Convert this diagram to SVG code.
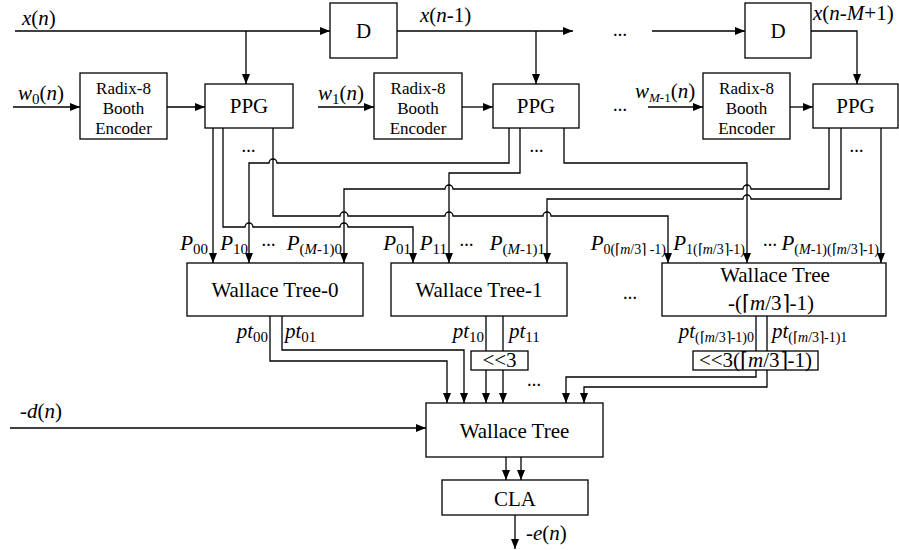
<svg xmlns="http://www.w3.org/2000/svg" width="899" height="550" viewBox="0 0 899 550">
<defs>
<marker id="ah" markerUnits="userSpaceOnUse" markerWidth="10" markerHeight="8" refX="10" refY="4" orient="auto">
<path d="M0,0 L10,4 L0,8 z" fill="#000"/>
</marker>
<style>
.box{fill:#fff;stroke:#000;stroke-width:1.3}
.w{fill:none;stroke:#000;stroke-width:1.3}
.a{fill:none;stroke:#000;stroke-width:1.3;marker-end:url(#ah)}
.t{font-size:21px;text-anchor:middle}
.enc{font-size:17px;text-anchor:middle}
.lab{font-size:21px}
.i{font-style:italic}
.s{font-size:15px}
.s2{font-size:14px}
.s3{font-size:13px}
.dots{font-size:14px;font-weight:bold;text-anchor:middle}
</style>
</defs>
<rect width="899" height="550" fill="#fff"/>

<g id="connectors">
<path class="a" d="M15,31 H330"/>
<path class="a" d="M246,31 V84"/>
<path class="a" d="M397,31 H573"/>
<path class="a" d="M536,31 V84"/>
<path class="a" d="M652,31 H745"/>
<path class="a" d="M811,31 H857 V84"/>
<path class="a" d="M13,107 H80"/>
<path class="a" d="M167,107 H205"/>
<path class="a" d="M318,107 H374"/>
<path class="a" d="M462,107 H493"/>
<path class="a" d="M648,107 H703"/>
<path class="a" d="M790,107 H813"/>
<path class="a" d="M213,128 V263"/>
<path class="a" d="M223,128 V227 H245 A4,4 0 0 1 253,227 H340 A4,4 0 0 1 348,227 H413 V263"/>
<path class="a" d="M273,128 V216 H340 A4,4 0 0 1 348,216 H445 A4,4 0 0 1 453,216 H543 A4,4 0 0 1 551,216 H668 V263"/>
<path class="a" d="M509,128 V163 H277 A4,4 0 0 0 269,163 H249 V263"/>
<path class="a" d="M520,128 V173 H449 V263"/>
<path class="a" d="M564,128 V163 H747 V263"/>
<path class="a" d="M829,128 V189 H751 A4,4 0 0 0 743,189 H453 A4,4 0 0 0 445,189 H344 V263"/>
<path class="a" d="M841,128 V199 H751 A4,4 0 0 0 743,199 H547 V263"/>
<path class="a" d="M881,128 V263"/>
<path class="a" d="M270,316 V361 H447 V403"/>
<path class="a" d="M282,316 V350 H464 V403"/>
<path class="w" d="M486,316 V351 M503,316 V351"/>
<path class="a" d="M486,370 V403"/>
<path class="a" d="M503,370 V403"/>
<path class="w" d="M756,316 V351 M767,316 V351"/>
<path class="a" d="M756,370 V377 H566 V403"/>
<path class="a" d="M767,370 V387 H584 V403"/>
<path class="a" d="M10,428 H426"/>
<path class="a" d="M506,457 V480"/>
<path class="a" d="M521,457 V480"/>
<path class="a" d="M515,515 V549"/>
</g>

<g id="D1"><rect class="box" x="330" y="3" width="67" height="55"/><text font-family="Liberation Serif" class="t" x="363.5" y="38">D</text></g>
<g id="D2"><rect class="box" x="745" y="3" width="66" height="55"/><text font-family="Liberation Serif" class="t" x="778" y="38">D</text></g>

<g id="enc0"><rect class="box" x="80" y="73" width="87" height="66"/>
<text font-family="Liberation Serif" class="enc" x="123.5" y="94">Radix-8</text><text font-family="Liberation Serif" class="enc" x="123.5" y="114">Booth</text><text font-family="Liberation Serif" class="enc" x="123.5" y="134">Encoder</text></g>
<g id="enc1"><rect class="box" x="374" y="73" width="88" height="66"/>
<text font-family="Liberation Serif" class="enc" x="418" y="94">Radix-8</text><text font-family="Liberation Serif" class="enc" x="418" y="114">Booth</text><text font-family="Liberation Serif" class="enc" x="418" y="134">Encoder</text></g>
<g id="enc2"><rect class="box" x="703" y="73" width="87" height="66"/>
<text font-family="Liberation Serif" class="enc" x="746.5" y="94">Radix-8</text><text font-family="Liberation Serif" class="enc" x="746.5" y="114">Booth</text><text font-family="Liberation Serif" class="enc" x="746.5" y="134">Encoder</text></g>

<g id="ppg0"><rect class="box" x="205" y="84" width="88" height="44"/><text font-family="Liberation Serif" class="t" x="249" y="113">PPG</text></g>
<g id="ppg1"><rect class="box" x="493" y="84" width="86" height="44"/><text font-family="Liberation Serif" class="t" x="536" y="113">PPG</text></g>
<g id="ppg2"><rect class="box" x="813" y="84" width="85" height="44"/><text font-family="Liberation Serif" class="t" x="855.5" y="113">PPG</text></g>

<g id="wt0"><rect class="box" x="187" y="263" width="176" height="53"/><text font-family="Liberation Serif" class="t" x="275" y="297">Wallace Tree-0</text></g>
<g id="wt1"><rect class="box" x="391" y="263" width="176" height="53"/><text font-family="Liberation Serif" class="t" x="479" y="297">Wallace Tree-1</text></g>
<g id="wt2"><rect class="box" x="662" y="263" width="224" height="53"/><text font-family="Liberation Serif" class="t" x="775" y="282">Wallace Tree</text>
<text font-family="Liberation Serif" class="t" x="771" y="310">-(⌈<tspan class="i">m</tspan>/3⌉-1)</text></g>

<g id="sh1"><rect class="box" x="471" y="351" width="57" height="19"/><text font-family="Liberation Serif" class="t" x="499.5" y="367">&lt;&lt;3</text></g>
<g id="sh2"><rect class="box" x="693" y="351" width="125" height="19"/><text font-family="Liberation Serif" class="t" x="755.5" y="367">&lt;&lt;3(⌈<tspan class="i">m</tspan>/3⌉-1)</text></g>

<g id="wtf"><rect class="box" x="426" y="403" width="177" height="54"/><text font-family="Liberation Serif" class="t" x="514.5" y="438">Wallace Tree</text></g>
<g id="cla"><rect class="box" x="442" y="480" width="146" height="35"/><text font-family="Liberation Serif" class="t" x="515" y="506">CLA</text></g>

<g id="labels">
<text font-family="Liberation Serif" class="lab" x="22" y="25"><tspan class="i">x</tspan>(<tspan class="i">n</tspan>)</text>
<text font-family="Liberation Serif" class="lab" x="420" y="22"><tspan class="i">x</tspan>(<tspan class="i">n</tspan>-1)</text>
<text font-family="Liberation Serif" class="lab" x="813" y="20"><tspan class="i">x</tspan>(<tspan class="i">n</tspan>-<tspan class="i">M</tspan>+1)</text>
<text font-family="Liberation Serif" class="lab" x="18" y="100"><tspan class="i">w</tspan><tspan class="s" dy="4">0</tspan><tspan dy="-4">(</tspan><tspan class="i">n</tspan>)</text>
<text font-family="Liberation Serif" class="lab" x="318" y="100"><tspan class="i">w</tspan><tspan class="s" dy="4">1</tspan><tspan dy="-4">(</tspan><tspan class="i">n</tspan>)</text>
<text font-family="Liberation Serif" class="lab" x="635" y="98"><tspan class="i">w</tspan><tspan class="s3" dy="4"><tspan class="i">M</tspan>-1</tspan><tspan dy="-4">(</tspan><tspan class="i">n</tspan>)</text>

<text font-family="Liberation Serif" class="dots" x="620" y="36">…</text>
<text font-family="Liberation Serif" class="dots" x="620" y="111">…</text>
<text font-family="Liberation Serif" class="dots" x="248.5" y="152">…</text>
<text font-family="Liberation Serif" class="dots" x="536.5" y="152">…</text>
<text font-family="Liberation Serif" class="dots" x="856.5" y="152">…</text>
<text font-family="Liberation Serif" class="dots" x="268.5" y="246">…</text>
<text font-family="Liberation Serif" class="dots" x="466.5" y="246">…</text>
<text font-family="Liberation Serif" class="dots" x="770" y="246">…</text>
<text font-family="Liberation Serif" class="dots" x="630" y="299">…</text>
<text font-family="Liberation Serif" class="dots" x="534" y="386">…</text>

<text font-family="Liberation Serif" class="lab" x="208" y="250" text-anchor="end"><tspan class="i">P</tspan><tspan class="s" dy="4">00</tspan></text>
<text font-family="Liberation Serif" class="lab" x="248" y="250" text-anchor="end"><tspan class="i">P</tspan><tspan class="s" dy="4">10</tspan></text>
<text font-family="Liberation Serif" class="lab" x="342" y="250" text-anchor="end"><tspan class="i">P</tspan><tspan class="s" dy="4">(<tspan class="i">M</tspan>-1)0</tspan></text>
<text font-family="Liberation Serif" class="lab" x="411" y="250" text-anchor="end"><tspan class="i">P</tspan><tspan class="s" dy="4">01</tspan></text>
<text font-family="Liberation Serif" class="lab" x="447" y="250" text-anchor="end"><tspan class="i">P</tspan><tspan class="s" dy="4">11</tspan></text>
<text font-family="Liberation Serif" class="lab" x="545" y="250" text-anchor="end"><tspan class="i">P</tspan><tspan class="s" dy="4">(<tspan class="i">M</tspan>-1)1</tspan></text>
<text font-family="Liberation Serif" class="lab" x="666" y="250" text-anchor="end"><tspan class="i">P</tspan><tspan class="s2" dy="4">0(⌈<tspan class="i">m</tspan>/3⌉ -1)</tspan></text>
<text font-family="Liberation Serif" class="lab" x="745" y="250" text-anchor="end"><tspan class="i">P</tspan><tspan class="s2" dy="4">1(⌈<tspan class="i">m</tspan>/3⌉-1)</tspan></text>
<text font-family="Liberation Serif" class="lab" x="879" y="250" text-anchor="end"><tspan class="i">P</tspan><tspan class="s2" dy="4">(<tspan class="i">M</tspan>-1)(⌈<tspan class="i">m</tspan>/3⌉-1)</tspan></text>

<text font-family="Liberation Serif" class="lab" x="268" y="338" text-anchor="end"><tspan class="i">pt</tspan><tspan class="s" dy="4">00</tspan></text>
<text font-family="Liberation Serif" class="lab" x="285" y="338"><tspan class="i">pt</tspan><tspan class="s" dy="4">01</tspan></text>
<text font-family="Liberation Serif" class="lab" x="484" y="338" text-anchor="end"><tspan class="i">pt</tspan><tspan class="s" dy="4">10</tspan></text>
<text font-family="Liberation Serif" class="lab" x="509" y="338"><tspan class="i">pt</tspan><tspan class="s" dy="4">11</tspan></text>
<text font-family="Liberation Serif" class="lab" x="754" y="338" text-anchor="end"><tspan class="i">pt</tspan><tspan class="s2" dy="4">(⌈<tspan class="i">m</tspan>/3⌉-1)0</tspan></text>
<text font-family="Liberation Serif" class="lab" x="772" y="338"><tspan class="i">pt</tspan><tspan class="s2" dy="4">(⌈<tspan class="i">m</tspan>/3⌉-1)1</tspan></text>

<text font-family="Liberation Serif" class="lab" x="20" y="418">-<tspan class="i">d</tspan>(<tspan class="i">n</tspan>)</text>
<text font-family="Liberation Serif" class="lab" x="526" y="540">-<tspan class="i">e</tspan>(<tspan class="i">n</tspan>)</text>
</g>
</svg>
